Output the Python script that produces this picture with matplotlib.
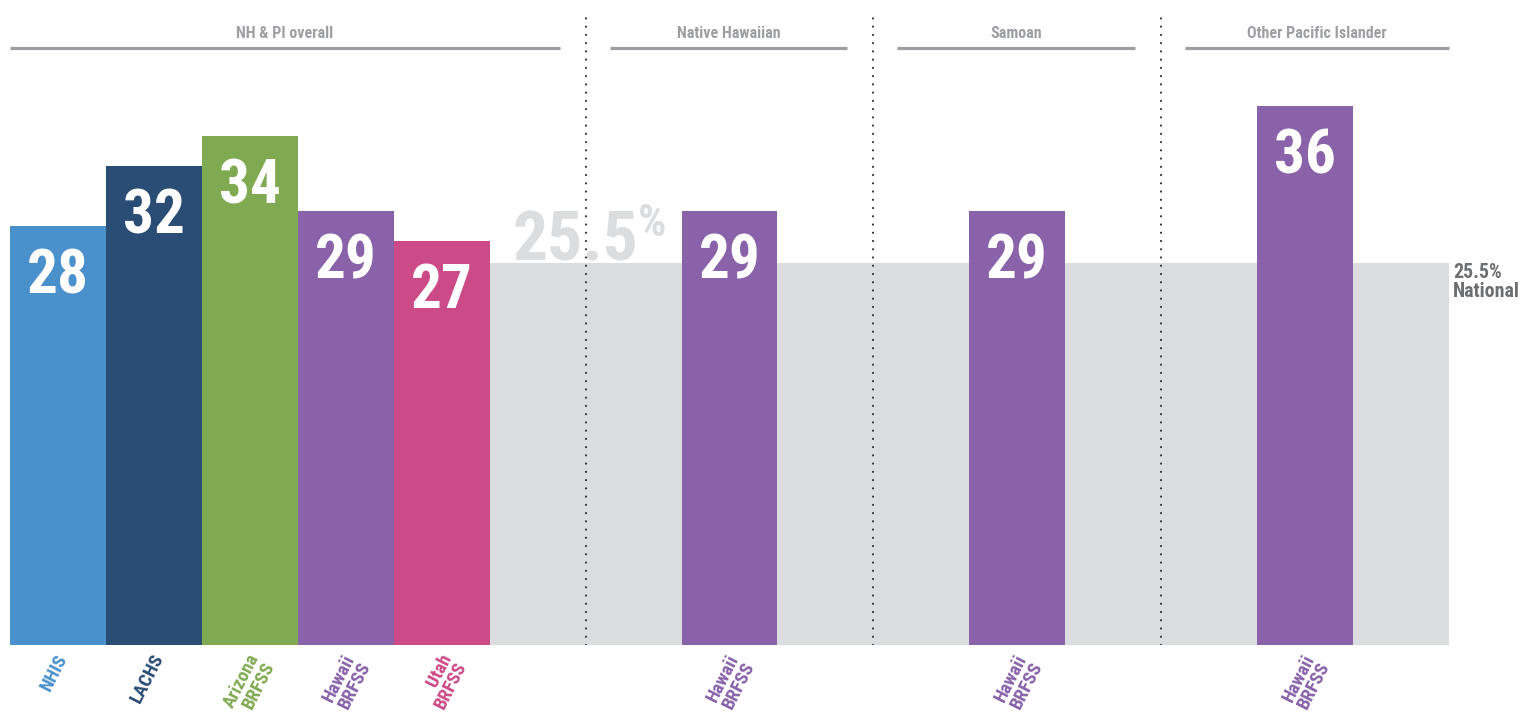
import matplotlib
matplotlib.use('Agg')
import matplotlib.pyplot as plt
from matplotlib.transforms import ScaledTranslation

# data
labels = ["NHIS", "LACHS", "Arizona\nBRFSS", "Hawaii\nBRFSS", "Utah\nBRFSS",
          "Hawaii\nBRFSS", "Hawaii\nBRFSS", "Hawaii\nBRFSS"]
values = [28, 32, 34, 29, 27, 29, 29, 36]
positions = [0, 1, 2, 3, 4, 7, 10, 13]
colors = ["#4a90cd", "#2a4d75", "#80aa52", "#8962aa", "#cc4a88",
          "#8962aa", "#8962aa", "#8962aa"]
national = 25.5
groups = ["NH & PI overall", "Native Hawaiian", "Samoan", "Other Pacific Islander"]
group_spans = [(-0.5, 5.23), (5.75, 8.23), (8.75, 11.23), (11.75, 14.5)]
separators = [5.5, 8.5, 11.5]

plt.rcParams['font.family'] = ['Roboto Condensed', 'Archivo Narrow', 'DejaVu Sans']
plt.rcParams['font.weight'] = 'bold'

W, H = 1523, 713
fig = plt.figure(figsize=(W / 100, H / 100), dpi=100)
ax = fig.add_axes([10 / W, 68 / H, 1439 / W, 645 / H])
ax.set_xlim(-0.5, 14.5)
ax.set_ylim(0, 43.1)
ax.axis("off")

# national band
ax.axhspan(0, national, color="#dcdddf", zorder=0, lw=0)
ax.text(5.40, 25.7, "25.5", fontsize=50, color="#dcdddf",
        ha="center", va="baseline", zorder=1)
ax.text(6.19, 27.3, "%", fontsize=32, color="#dcdddf",
        ha="center", va="baseline", zorder=1)
ax.text(1.003, national / 43.1, "25.5%\nNational", transform=ax.transAxes,
        fontsize=14.3, color="#6d6e70", ha="left", va="top", linespacing=1.0,
        clip_on=False)

ax.bar(positions, values, width=1.0, color=colors, zorder=2, lw=0)
for p, v in zip(positions, values):
    ax.text(p, v - 4.48, str(v), color="white", fontsize=44, ha="center",
            va="baseline", zorder=3)

for sx in separators:
    ax.plot([sx, sx], [0, 42.3], color="#333333", lw=1.6,
            linestyle=(0, (0.01, 3.7)), dash_capstyle="round", zorder=4)

for g, (a, b) in zip(groups, group_spans):
    ax.plot([a, b], [39.9, 39.9], color="#9d9fa2", lw=2.3,
            solid_capstyle="butt", clip_on=False)
    ax.text((a + b) / 2, 40.85, g, color="#9d9fa2", fontsize=11.5,
            ha="center", va="center")

# category labels under the bars
shift = ScaledTranslation(-3 / 100, -6 / 100, fig.dpi_scale_trans)
for p, lab, c in zip(positions, labels, colors):
    ax.text(p, 0, lab, transform=ax.get_xaxis_transform() + shift,
            rotation=63, ha="right", va="top", rotation_mode="anchor",
            fontsize=13.5, multialignment="right", linespacing=0.95,
            color=c, clip_on=False)

fig.savefig("out.png", dpi=100)
